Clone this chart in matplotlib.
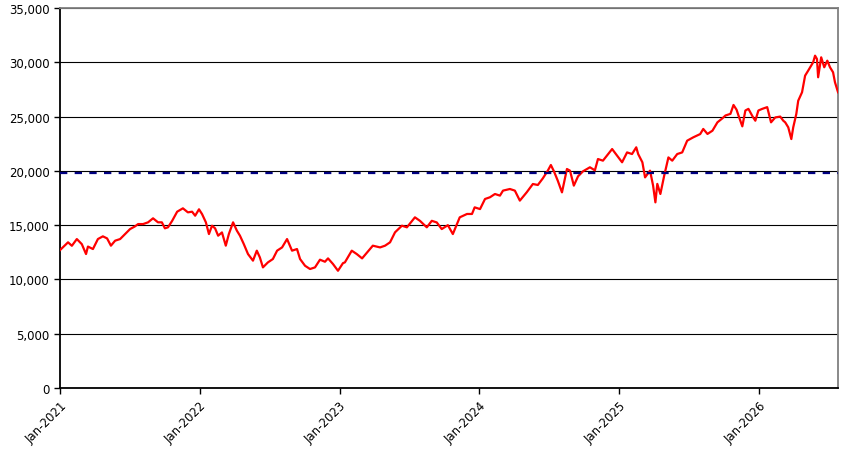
import pandas as pd
import matplotlib.pyplot as plt
import matplotlib.dates as mdates
from matplotlib.ticker import FuncFormatter

# index level (date, value)
dates = [
    "2021-01-01", "2021-01-22", "2021-02-01", "2021-02-14", "2021-02-27", "2021-03-10",
    "2021-03-15", "2021-03-28", "2021-04-10", "2021-04-23", "2021-05-04", "2021-05-14",
    "2021-05-25", "2021-06-07", "2021-06-20", "2021-07-03", "2021-07-16", "2021-07-24",
    "2021-08-06", "2021-08-19", "2021-09-01", "2021-09-14", "2021-09-24", "2021-10-02",
    "2021-10-10", "2021-10-21", "2021-11-03", "2021-11-18", "2021-12-01", "2021-12-12",
    "2021-12-20", "2021-12-30",
    "2022-01-07", "2022-01-17", "2022-01-25", "2022-02-02", "2022-02-10", "2022-02-18",
    "2022-02-28", "2022-03-10", "2022-03-18", "2022-03-29", "2022-04-08", "2022-04-16",
    "2022-04-26", "2022-05-07", "2022-05-20", "2022-05-30", "2022-06-07", "2022-06-15",
    "2022-06-28", "2022-07-11", "2022-07-22", "2022-08-04", "2022-08-17", "2022-08-30",
    "2022-09-12", "2022-09-20", "2022-10-03", "2022-10-16", "2022-10-29", "2022-11-11",
    "2022-11-24", "2022-12-02", "2022-12-15", "2022-12-28",
    "2023-01-10", "2023-01-15", "2023-02-02", "2023-02-15", "2023-03-01", "2023-03-14",
    "2023-03-29", "2023-04-17", "2023-04-30", "2023-05-13", "2023-05-26", "2023-06-13",
    "2023-06-26", "2023-07-17", "2023-07-30", "2023-08-17", "2023-08-30", "2023-09-12",
    "2023-09-25", "2023-10-11", "2023-10-24", "2023-11-11", "2023-11-30", "2023-12-13",
    "2023-12-20",
    "2024-01-03", "2024-01-16", "2024-01-29", "2024-02-11", "2024-02-24", "2024-03-03",
    "2024-03-21", "2024-04-03", "2024-04-16", "2024-05-04", "2024-05-20", "2024-06-02",
    "2024-06-15", "2024-06-28", "2024-07-06", "2024-07-14", "2024-07-24", "2024-08-04",
    "2024-08-17", "2024-08-25", "2024-09-04", "2024-09-15", "2024-09-28", "2024-10-16",
    "2024-10-29", "2024-11-06", "2024-11-19", "2024-12-13", "2024-12-26",
    "2025-01-08", "2025-01-21", "2025-02-03", "2025-02-14", "2025-02-19", "2025-03-02",
    "2025-03-09", "2025-03-22", "2025-03-30", "2025-04-05", "2025-04-10", "2025-04-18",
    "2025-04-28", "2025-05-09", "2025-05-19", "2025-06-01", "2025-06-14", "2025-06-27",
    "2025-07-13", "2025-07-31", "2025-08-08", "2025-08-19", "2025-09-01", "2025-09-14",
    "2025-09-27", "2025-10-05", "2025-10-18", "2025-10-26", "2025-11-03", "2025-11-08",
    "2025-11-18", "2025-11-26", "2025-12-04", "2025-12-15", "2025-12-22", "2025-12-30",
    "2026-01-09", "2026-01-22", "2026-02-01", "2026-02-12", "2026-02-25", "2026-03-05",
    "2026-03-10", "2026-03-18", "2026-03-26", "2026-03-31", "2026-04-08", "2026-04-13",
    "2026-04-23", "2026-05-01", "2026-05-09", "2026-05-22", "2026-05-27", "2026-06-01",
    "2026-06-04", "2026-06-12", "2026-06-20", "2026-06-28", "2026-07-05", "2026-07-13",
    "2026-07-18", "2026-07-26",
]
values = [
    12700, 13420, 13100, 13720, 13250, 12340,
    13030, 12800, 13720, 13970, 13780, 13110,
    13570, 13720, 14180, 14640, 14890, 15100,
    15100, 15260, 15630, 15260, 15260, 14710,
    14800, 15400, 16240, 16550, 16180, 16240,
    15870, 16460,
    16020, 15260, 14180, 14950, 14710, 14030,
    14330, 13110, 14180, 15260, 14490, 14030,
    13260, 12340, 11730, 12650, 12030, 11110,
    11570, 11880, 12650, 12950, 13720, 12650,
    12800, 11880, 11260, 10960, 11110, 11820,
    11630, 11940, 11420, 10800,
    11500, 11570, 12650, 12340, 11940, 12490,
    13110, 12950, 13110, 13420, 14340, 14950,
    14800, 15720, 15400, 14800, 15400, 15250,
    14640, 15000, 14180, 15720, 16030, 16030,
    16640,
    16480, 17410, 17570, 17870, 17720, 18180,
    18330, 18180, 17260, 18030, 18790, 18700,
    19310, 20020, 20540, 19960, 19100, 18020,
    20170, 20020, 18640, 19500, 19960, 20330,
    20050, 21090, 20940, 22010, 21400,
    20790, 21700, 21550, 22170, 21550, 20790,
    19400, 20020, 18640, 17100, 18800, 17870,
    19560, 21240, 20940, 21550, 21700, 22780,
    23090, 23390, 23860, 23400, 23700, 24470,
    24840, 25100, 25250, 26070, 25630, 25100,
    24100, 25560, 25710, 25000, 24620, 25560,
    25710, 25870, 24470, 24920, 25000, 24620,
    24470, 24010, 22930, 24010, 25240, 26460,
    27240, 28770, 29230, 30000, 30610, 30300,
    28620, 30460, 29540, 30150, 29540, 29080,
    28160, 27240,
]
reference_level = 19800

df = pd.DataFrame({'date': pd.to_datetime(dates), 'value': values})

fig = plt.figure(figsize=(8.62, 4.64), dpi=100)
ax = fig.add_axes([0.0696, 0.1616, 0.9026, 0.819])

# horizontal gridlines in black, drawn under the data
ax.set_axisbelow(True)
ax.yaxis.grid(True, color='black', linewidth=0.8)

ax.plot(df['date'], df['value'], color='#ff0000', linewidth=1.6, zorder=3)
ax.axhline(reference_level, color='#000080', linewidth=1.6,
           linestyle=(0, (3.3, 3.3)), zorder=4)

ax.set_ylim(0, 35000)
ax.set_yticks(range(0, 35001, 5000))
ax.yaxis.set_major_formatter(FuncFormatter(lambda v, p: f'{int(v):,}'))

ax.set_xlim(pd.Timestamp('2021-01-01'), df['date'].iloc[-1])
ax.xaxis.set_major_locator(mdates.YearLocator())
ax.xaxis.set_major_formatter(mdates.DateFormatter('%b-%Y'))
plt.setp(ax.get_xticklabels(), rotation=45, ha='right', rotation_mode='anchor')

ax.tick_params(axis='both', labelsize=8.5, colors='black', length=4, width=1)

ax.spines['left'].set_color('black')
ax.spines['bottom'].set_color('black')
ax.spines['top'].set_color('#808080')
ax.spines['right'].set_color('#808080')
for s in ax.spines.values():
    s.set_linewidth(1.3)

fig.savefig('out.png', dpi=100)
